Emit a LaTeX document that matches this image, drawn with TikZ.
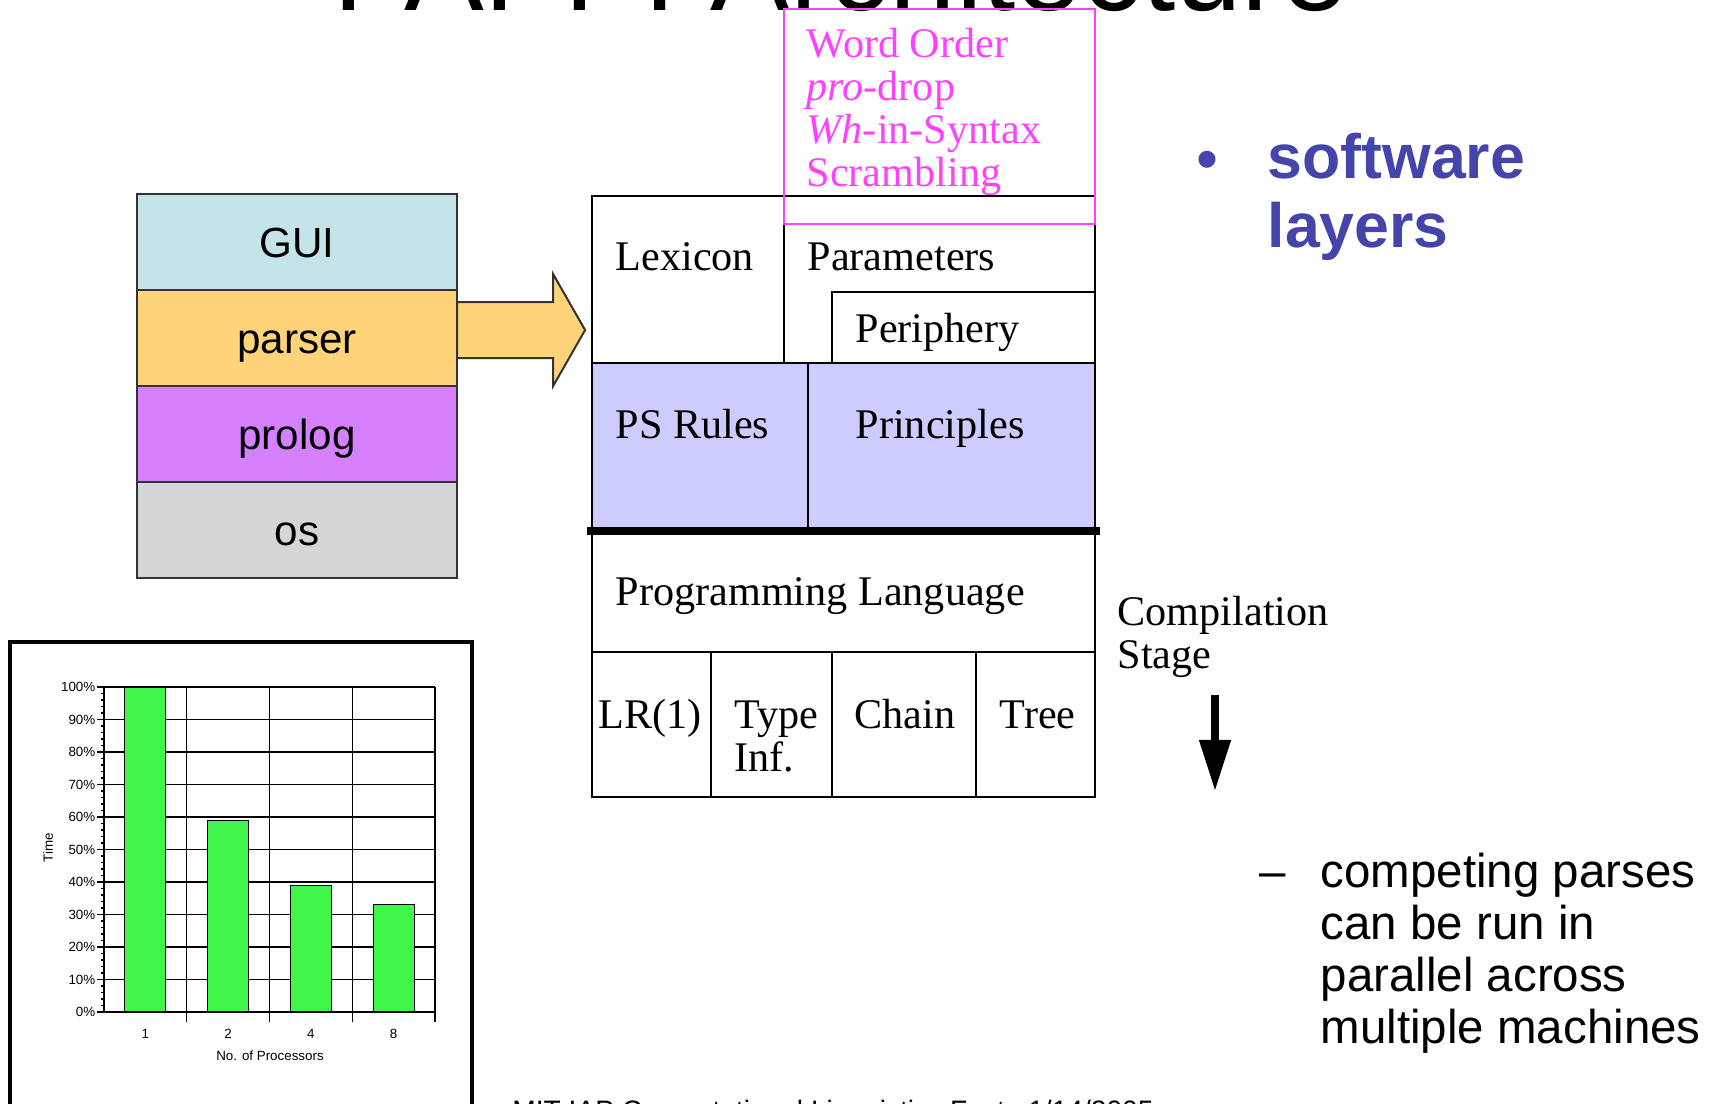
\documentclass[tikz,border=0pt]{standalone}
\usepackage{fontspec}
\setmainfont{Liberation Serif}
\setsansfont{Liberation Sans}
\usetikzlibrary{positioning,calc,arrows.meta}

\definecolor{guicol}{RGB}{197,228,232}
\definecolor{parsercol}{RGB}{255,212,121}
\definecolor{prologcol}{RGB}{213,128,255}
\definecolor{oscol}{RGB}{214,214,214}
\definecolor{rulecol}{RGB}{204,204,255}
\definecolor{paramcol}{RGB}{255,64,255}
\definecolor{barcol}{RGB}{64,246,74}
\definecolor{bulletcol}{RGB}{68,68,170}

\begin{document}
\begin{tikzpicture}[
  x=0.01cm, y=-0.01cm,
  layer/.style={draw=black!80, line width=0.02cm, minimum width=3.2cm, minimum height=0.96cm,
    outer sep=0pt, inner sep=0pt, text height=0.3cm, text depth=0pt,
    font=\sffamily\fontsize{12}{14}\selectfont},
  cellline/.style={line width=0.028cm},
  celltext/.style={anchor=base west, inner sep=0pt, align=left,
    font=\fontsize{12}{12.2}\selectfont},
  sidetext/.style={anchor=base west, inner sep=0pt, align=left,
    font=\sffamily\fontsize{13.5}{14.7}\selectfont},
  gridline/.style={line width=0.012cm},
  chartlabel/.style={inner sep=0pt, font=\sffamily\fontsize{3.8}{4.5}\selectfont}
]
\useasboundingbox (0,0) rectangle (1719,1103);
\clip (0,0) rectangle (1719,1103);
\fill[white] (0,0) rectangle (1719,1103);

\node[anchor=base, inner sep=0pt, font=\sffamily\fontsize{34}{40}\selectfont] (title) at (841,10) {PAPPI Architecture};

% software layers
\node[layer, fill=guicol] (gui) at (297,242) {GUI};
\node[layer, fill=parsercol, below=0pt of gui] (parser) {parser};
\node[layer, fill=prologcol, below=0pt of parser] (prolog) {prolog};
\node[layer, fill=oscol, below=0pt of prolog] (os) {os};

\coordinate (feed) at ($(parser.east)+(0,-8)$);
\draw[line width=0.02cm, draw=black!80, fill=parsercol] (feed) ++(0,-28) -- ++(96,0) -- ++(0,-28)
  -- ++(32,56) -- ++(-32,56) -- ++(0,-28) -- ++(-96,0) -- cycle;

% architecture
\fill[rulecol] (592,363) rectangle (1095,531);
\draw[cellline] (592,196) rectangle (1095,797);
\draw[cellline] (784,196) -- (784,363) (832,363) |- (1095,292)
  (592,363) -- (1095,363) (808,363) -- (808,531) (592,652) -- (1095,652);
\foreach \x in {711,832,976} \draw[cellline] (\x,652) -- (\x,797);
\draw[line width=0.08cm] (587,531) -- (1100,531);

\node[celltext] (lexicon) at (615,270) {Lexicon};
\node[celltext] (parameters) at (807,270) {Parameters};
\node[celltext] (periphery) at (855,342) {Periphery};
\node[celltext] (psrules) at (615,438) {PS Rules};
\node[celltext] (principles) at (855,438) {Principles};
\node[celltext] (proglang) at (615,605) {Programming Language};
\node[celltext] (lrone) at (598,728) {LR(1)};
\node[celltext] (typeinf) at (734,771) {Type\\Inf.};
\node[celltext] (chain) at (854,728) {Chain};
\node[celltext] (tree) at (999,728) {Tree};

\draw[paramcol, line width=0.028cm] (784,9) rectangle (1095,224);
\node[celltext, text=paramcol] (settings) at (806,186)
  {Word Order\\\textit{pro}-drop\\\textit{Wh}-in-Syntax\\Scrambling};

\node[celltext] (stage) at (1117,668) {Compilation\\Stage};
\coordinate (stagetop) at (1215,695);
\coordinate (stagebot) at (1215,791);
\draw[line width=0.075cm, -{Triangle[length=0.51cm,width=0.3cm]}] (stagetop) -- (stagebot);

% bullets
\node[anchor=base, inner sep=0pt, text=bulletcol, font=\sffamily\fontsize{17.8}{19.5}\selectfont]
  (bullet) at (1207,180) {•};
\node[anchor=base west, inner sep=0pt, align=left, text=bulletcol,
  font=\sffamily\bfseries\fontsize{17.8}{19.5}\selectfont] (layers) at (1267,247) {software\\layers};
\node[sidetext] (dash) at (1259,887) {–};
\node[sidetext] (parallel) at (1320,1043) {competing parses\\can be run in\\parallel across\\multiple machines};

% speedup chart
\draw[line width=0.035cm] (10,642) rectangle (472,1115);
\foreach \p in {1,...,10} \draw[gridline] (97,{1012-32.5*\p}) -- (435,{1012-32.5*\p});
\foreach \x in {186.75,269.5,352.25,435} \draw[gridline] (\x,687) -- (\x,1022);
\foreach \p in {0,2,...,100} \draw[gridline] (101,{1012-3.25*\p}) -- (104,{1012-3.25*\p});
\draw[gridline] (104,687) -- (104,1012) (97,1012) -- (435,1012);
\foreach \n/\v [count=\i] in {1/100,2/59,4/39,8/33} {
  \draw[gridline, fill=barcol] ({104+82.75*\i-61.9},1012) rectangle ++(41,{-3.25*\v});
  \node[chartlabel, anchor=base] (proc\i) at ({104+82.75*\i-41.4},1038) {\n};
}
\foreach \q in {0,10,...,100}
  \node[chartlabel, anchor=east] (pct\q) at (96,{1012-3.25*\q}) {\q\%};
\node[chartlabel, rotate=90] (timelabel) at (48,848) {Time};
\node[chartlabel, anchor=base] (xlabel) at (270,1060) {No. of Processors};

\node[anchor=base, inner sep=0pt, font=\sffamily\fontsize{8}{9.6}\selectfont] (footer) at (833,1120)
  {MIT IAP Computational Linguistics Fest, \ 1/14/2005};
\end{tikzpicture}
\end{document}
